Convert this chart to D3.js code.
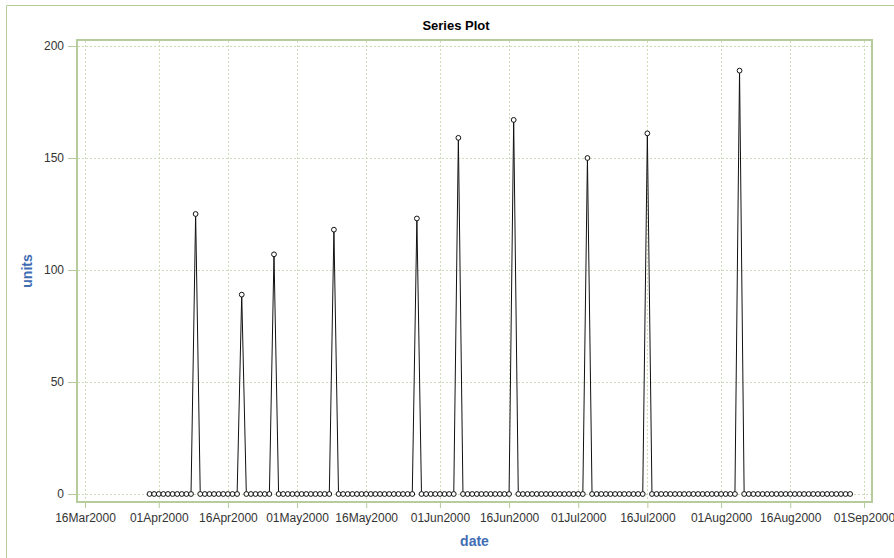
<!DOCTYPE html>
<html>
<head>
<meta charset="utf-8">
<script src="https://cdn.jsdelivr.net/npm/d3@7"></script>
<style>
  body { margin: 0; background: #fff; }
  svg { display: block; font-family: "Liberation Sans", Arial, sans-serif; }
</style>
</head>
<body>
<svg id="chart" width="894" height="558"></svg>
<script>
// Daily units, one array per month, starting 30 Mar 2000
const startDate = "2000-03-30";
const unitsMar = [0, 0];
const unitsApr = [0, 0, 0, 0, 0, 0, 0, 0, 125, 0,
                  0, 0, 0, 0, 0, 0, 0, 0, 89, 0,
                  0, 0, 0, 0, 0, 107, 0, 0, 0, 0];
const unitsMay = [0, 0, 0, 0, 0, 0, 0, 0, 118, 0,
                  0, 0, 0, 0, 0, 0, 0, 0, 0, 0,
                  0, 0, 0, 0, 0, 0, 123, 0, 0, 0, 0];
const unitsJun = [0, 0, 0, 0, 159, 0, 0, 0, 0, 0,
                  0, 0, 0, 0, 0, 0, 167, 0, 0, 0,
                  0, 0, 0, 0, 0, 0, 0, 0, 0, 0];
const unitsJul = [0, 0, 150, 0, 0, 0, 0, 0, 0, 0,
                  0, 0, 0, 0, 0, 161, 0, 0, 0, 0,
                  0, 0, 0, 0, 0, 0, 0, 0, 0, 0, 0];
const unitsAug = [0, 0, 0, 0, 189, 0, 0, 0, 0, 0,
                  0, 0, 0, 0, 0, 0, 0, 0, 0, 0,
                  0, 0, 0, 0, 0, 0, 0, 0, 0];

const xTickDates = ["2000-03-16", "2000-04-01", "2000-04-16", "2000-05-01",
                    "2000-05-16", "2000-06-01", "2000-06-16", "2000-07-01",
                    "2000-07-16", "2000-08-01", "2000-08-16", "2000-09-01"];
const yTicks = [0, 50, 100, 150, 200];
const titleText = "Series Plot";
const xLabel = "date";
const yLabel = "units";

const parse = d3.utcParse("%Y-%m-%d");
const start = parse(startDate);
const units = [].concat(unitsMar, unitsApr, unitsMay, unitsJun, unitsJul, unitsAug);
const data = units.map((v, i) => ({ date: d3.utcDay.offset(start, i), units: v }));
const xTicks = xTickDates.map(parse);

const svg = d3.select("#chart");
const frameColor = "#b6cc9c";
const gridColor = "#cddbb8";
const labelBlue = "#3f6db3";

const x = d3.scaleUtc().domain([xTicks[0], xTicks[xTicks.length - 1]]).range([85, 864]);
const y = d3.scaleLinear().domain([0, 200]).range([494, 46]);

const plot = { left: 77, top: 40, right: 872, bottom: 502 };

// outer graph border
svg.append("path")
  .attr("d", `M6.5,558 V5.5 H894`)
  .attr("fill", "none").attr("stroke", frameColor).attr("stroke-width", 1);

// title
svg.append("text")
  .attr("x", 456).attr("y", 30)
  .attr("text-anchor", "middle")
  .attr("font-size", 13).attr("font-weight", "bold").attr("fill", "#000")
  .text(titleText);

// grid
const grid = svg.append("g").attr("stroke", gridColor).attr("stroke-width", 1)
  .attr("stroke-dasharray", "2,2").attr("fill", "none");
grid.selectAll("line.h").data(yTicks).join("line").attr("class", "h")
  .attr("x1", plot.left + 1).attr("x2", plot.right - 1)
  .attr("y1", d => Math.round(y(d)) + 0.5).attr("y2", d => Math.round(y(d)) + 0.5);
grid.selectAll("line.v").data(xTicks).join("line").attr("class", "v")
  .attr("y1", plot.top + 1).attr("y2", plot.bottom - 1)
  .attr("x1", d => Math.round(x(d)) + 0.5).attr("x2", d => Math.round(x(d)) + 0.5);

// axes
const xAxis = d3.axisBottom(x).tickValues(xTicks)
  .tickFormat(d3.utcFormat("%d%b%Y")).tickSize(6).tickPadding(5);
const yAxis = d3.axisLeft(y).tickValues(yTicks).tickSize(9).tickPadding(4);

const gx = svg.append("g").attr("transform", `translate(0,${plot.bottom})`).call(xAxis);
const gy = svg.append("g").attr("transform", `translate(${plot.left},0)`).call(yAxis);
[gx, gy].forEach(g => {
  g.select(".domain").remove();
  g.selectAll(".tick line").attr("stroke", frameColor);
  g.selectAll(".tick text").attr("fill", "#333").attr("font-size", 12)
    .attr("font-family", "'Liberation Sans', Arial, sans-serif");
});

// plot frame
svg.append("rect")
  .attr("x", plot.left).attr("y", plot.top)
  .attr("width", plot.right - plot.left).attr("height", plot.bottom - plot.top)
  .attr("fill", "none").attr("stroke", frameColor).attr("stroke-width", 2);

// series line
const line = d3.line().x(d => x(d.date)).y(d => y(d.units));
svg.append("path").datum(data)
  .attr("d", line).attr("fill", "none")
  .attr("stroke", "#111").attr("stroke-width", 1);

// markers
svg.append("g").selectAll("circle").data(data).join("circle")
  .attr("cx", d => x(d.date)).attr("cy", d => y(d.units))
  .attr("r", 2.4).attr("fill", "#fff").attr("stroke", "#111").attr("stroke-width", 1);

// axis labels
svg.append("text")
  .attr("x", (plot.left + plot.right) / 2).attr("y", 546)
  .attr("text-anchor", "middle").attr("font-size", 14).attr("font-weight", "bold")
  .attr("fill", labelBlue).text(xLabel);
svg.append("text")
  .attr("transform", `translate(32,${(plot.top + plot.bottom) / 2}) rotate(-90)`)
  .attr("text-anchor", "middle").attr("font-size", 14).attr("font-weight", "bold")
  .attr("fill", labelBlue).text(yLabel);
</script>
</body>
</html>
